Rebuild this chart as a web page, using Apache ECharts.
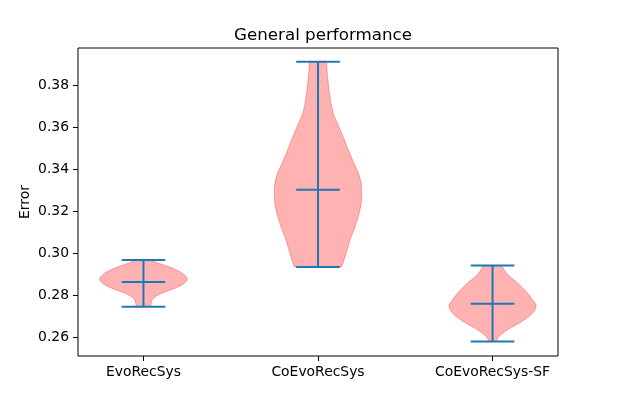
<!DOCTYPE html>
<html>
<head>
<meta charset="utf-8">
<script src="https://cdn.jsdelivr.net/npm/echarts@6/dist/echarts.min.js"></script>
<style>html,body{margin:0;padding:0;background:#fff;}#c{width:620px;height:400px;}</style>
</head>
<body>
<div id="c"></div>
<script>
const categories = ['EvoRecSys', 'CoEvoRecSys', 'CoEvoRecSys-SF'];
const positions = [1, 2, 3];
const minValues = [0.2746, 0.2935, 0.2580];
const meanValues = [0.2863, 0.3303, 0.2760];
const maxValues = [0.2968, 0.3913, 0.2942];
const yTicks = [0.26, 0.28, 0.30, 0.32, 0.34, 0.36, 0.38];
// violin outlines: [value, half width in x units]
const evoProfile = [[0.2968,0.040],[0.2953,0.086],[0.2937,0.143],[0.2921,0.189],[0.2905,0.223],[0.2881,0.25],[0.2858,0.235],[0.2834,0.182],[0.2810,0.105],[0.2786,0.057],[0.2762,0.044],[0.2746,0.042]];
const coEvoProfile = [[0.3913,0.049],[0.3851,0.054],[0.3780,0.063],[0.3756,0.067],[0.3708,0.076],[0.3660,0.090],[0.3613,0.115],[0.3565,0.139],[0.3517,0.162],[0.3469,0.185],[0.3422,0.210],[0.3374,0.235],[0.3326,0.248],[0.3264,0.25],[0.3221,0.244],[0.3174,0.230],[0.3126,0.212],[0.3078,0.189],[0.3031,0.172],[0.2983,0.155],[0.2935,0.134]];
const sfProfile = [[0.2942,0.052],[0.2899,0.086],[0.2859,0.143],[0.2819,0.191],[0.2779,0.229],[0.2747,0.25],[0.2708,0.22],[0.2668,0.153],[0.2636,0.086],[0.2605,0.038],[0.2580,0.02]];
const profiles = [evoProfile, coEvoProfile, sfProfile];

const chart = echarts.init(document.getElementById('c'), null, {renderer: 'canvas'});
const font = 'DejaVu Sans';
const blue = '#1f77b4';

// smooth open curve through pixel points (Catmull-Rom as cubic Bezier), drawing only
function curveTo(pts) {
  let s = '';
  for (let k = 0; k < pts.length - 1; k++) {
    const p0 = pts[Math.max(k - 1, 0)], p1 = pts[k], p2 = pts[k + 1], p3 = pts[Math.min(k + 2, pts.length - 1)];
    const c1 = [p1[0] + (p2[0] - p0[0]) / 6, p1[1] + (p2[1] - p0[1]) / 6];
    const c2 = [p2[0] - (p3[0] - p1[0]) / 6, p2[1] - (p3[1] - p1[1]) / 6];
    s += ' C' + c1[0] + ' ' + c1[1] + ' ' + c2[0] + ' ' + c2[1] + ' ' + p2[0] + ' ' + p2[1];
  }
  return s;
}

chart.setOption({
  animation: false,
  backgroundColor: '#fff',
  title: {
    text: 'General performance',
    left: 318, top: 22, textAlign: 'center',
    textStyle: {fontFamily: font, fontSize: 16.7, fontWeight: 'normal', color: '#000'}
  },
  grid: {left: 78, right: 62, top: 48, bottom: 44, show: true, borderColor: '#000', borderWidth: 1, backgroundColor: 'transparent'},
  xAxis: {
    type: 'value', min: 0.625, max: 3.375,
    axisLine: {show: false},
    splitLine: {show: false},
    axisTick: {show: true, length: 5, customValues: positions, lineStyle: {color: '#000', width: 1}},
    axisLabel: {customValues: positions, margin: 9, fontFamily: font, fontSize: 13.9, color: '#000',
      formatter: v => categories[Math.round(v) - 1]}
  },
  yAxis: {
    type: 'value', min: 0.2511, max: 0.3978,
    name: 'Error', nameLocation: 'middle', nameGap: 46, nameMoveOverlap: false,
    nameTextStyle: {fontFamily: font, fontSize: 13.9, color: '#000'},
    axisLine: {show: false},
    splitLine: {show: false},
    axisTick: {show: true, length: 5, customValues: yTicks, lineStyle: {color: '#000', width: 1}},
    axisLabel: {customValues: yTicks, margin: 9, fontFamily: font, fontSize: 13.9, color: '#000',
      formatter: v => v.toFixed(2)}
  },
  series: [
    {
      type: 'custom',
      data: positions.map((p, i) => [p, i]),
      renderItem: function (params, api) {
        const i = params.dataIndex;
        const pos = positions[i];
        const prof = profiles[i];
        const right = prof.map(d => api.coord([pos + d[1], d[0]]));
        const left = prof.slice().reverse().map(d => api.coord([pos - d[1], d[0]]));
        const path = 'M' + right[0][0] + ' ' + right[0][1] + curveTo(right) +
          ' L' + left[0][0] + ' ' + left[0][1] + curveTo(left) + ' Z';
        return {
          type: 'path',
          shape: {pathData: path},
          style: {fill: 'rgba(255,0,0,0.3)', stroke: 'rgba(255,0,0,0.3)', lineWidth: 1}
        };
      }
    },
    {
      type: 'custom',
      data: positions.map((p, i) => [p, minValues[i], meanValues[i], maxValues[i]]),
      renderItem: function (params, api) {
        const pos = api.value(0);
        const lo = api.value(1), mean = api.value(2), hi = api.value(3);
        const style = {stroke: blue, lineWidth: 2};
        const seg = (x1, y1, x2, y2) => {
          const a = api.coord([x1, y1]), b = api.coord([x2, y2]);
          return {type: 'line', shape: {x1: a[0], y1: a[1], x2: b[0], y2: b[1]}, style: style};
        };
        return {
          type: 'group',
          children: [
            seg(pos, lo, pos, hi),
            seg(pos - 0.125, lo, pos + 0.125, lo),
            seg(pos - 0.125, mean, pos + 0.125, mean),
            seg(pos - 0.125, hi, pos + 0.125, hi)
          ]
        };
      }
    }
  ]
});
</script>
</body>
</html>
